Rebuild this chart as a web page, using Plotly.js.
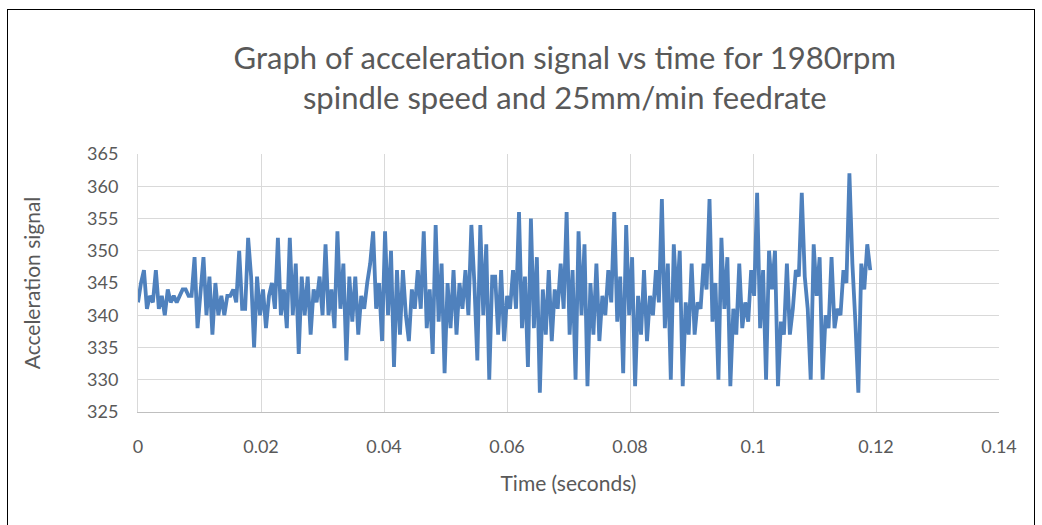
<!DOCTYPE html>
<html>
<head>
<meta charset="utf-8">
<script src="https://cdn.plot.ly/plotly-3.0.1.min.js"></script>
<style>
  html, body { margin: 0; padding: 0; background: #ffffff; }
  #wrap { position: relative; width: 1042px; height: 525px; overflow: hidden; }
  #chart { width: 1042px; height: 525px; }
  #frame { position: absolute; left: 7px; top: 9px; width: 1028px; height: 540px;
           border: 1.5px solid #000; pointer-events: none; box-sizing: border-box; }
</style>
</head>
<body>
<div id="wrap">
  <div id="chart"></div>
  <div id="frame"></div>
</div>
<script>
// Sampling interval of the acceleration signal (seconds)
const sampleInterval = 0.000484;

// Acceleration signal values, in time order
const signalPart1 = [342,345,347,341,343,342,347,341,343,340,344,342,343,342,343,344,344,343,343,349,
                     338,343,349,340,346,337,345,340,343,340,343,343,344,342,350,341,341,352,346,335];
const signalPart2 = [346,340,344,338,343,345,341,352,340,344,338,352,340,348,334,346,340,346,337,344,
                     342,346,340,351,340,344,338,353,341,348,333,346,339,346,337,343,341,345,348];
const signalPart3 = [353,341,345,336,353,340,350,332,347,337,347,340,336,344,341,347,341,353,338,344,
                     334,354,339,348,331,345,338,347,337,345,341,347,340,354,345,333,354,340,351,330,346];
const signalPart4 = [346,337,347,336,343,341,347,341,356,338,346,332,355,338,349,328,344,337,347,336,
                     344,341,348,341,356,337,347,330,353,340,351,329,345,337,348,336,343,340,347,342,356];
const signalPart5 = [339,346,331,354,340,349,329,343,337,347,336,343,340,347,342,358,338,348,330,351,
                     342,350,329,342,337,348,337,342,341,348,344,358,339,345,330,352,341,349,329,341];
const signalPart6 = [337,348,338,342,339,347,343,359,338,347,330,350,344,350,329,339,337,348,337,341,
                     347,346,359,346,341,330,351,343,349,330,340,338,349,338,341,340,347,345,362,348,
                     339,328,348,344,351,347];

const signal = [].concat(signalPart1, signalPart2, signalPart3, signalPart4, signalPart5, signalPart6);
const time = signal.map((v, i) => i * sampleInterval);

const xTicks = [0, 0.02, 0.04, 0.06, 0.08, 0.1, 0.12, 0.14];
const xTickLabels = ["0", "0.02", "0.04", "0.06", "0.08", "0.1", "0.12", "0.14"];
const yTicks = [325, 330, 335, 340, 345, 350, 355, 360, 365];

const chartTitle = "Graph of acceleration signal vs time for 1980rpm<br>spindle speed and 25mm/min feedrate";
const xTitle = "Time (seconds)";
const yTitle = "Acceleration signal";

const font = "Lato, 'Open Sans', sans-serif";
const textGrey = "#595959";

const trace = {
  x: time,
  y: signal,
  type: "scatter",
  mode: "lines",
  line: { color: "#4F81BD", width: 3.8, shape: "linear" },
  hoverinfo: "x+y"
};

const layout = {
  width: 1042,
  height: 525,
  paper_bgcolor: "#ffffff",
  plot_bgcolor: "#ffffff",
  margin: { l: 138, r: 43, t: 154, b: 113, pad: 0 },
  showlegend: false,
  font: { family: font, color: textGrey },
  title: {
    text: chartTitle,
    font: { family: font, size: 31, color: textGrey },
    x: 0.542, xanchor: "center",
    y: 0.869, yanchor: "middle"
  },
  xaxis: {
    range: [0, 0.14],
    tickvals: xTicks,
    ticktext: xTickLabels,
    showgrid: true,
    gridcolor: "#d9d9d9",
    gridwidth: 1,
    zeroline: false,
    showline: true,
    linecolor: "#bfbfbf",
    linewidth: 1,
    ticks: "",
    ticklabelstandoff: 18,
    tickfont: { family: font, size: 18, color: textGrey },
    title: { text: xTitle, font: { family: font, size: 21, color: textGrey }, standoff: 20 }
  },
  yaxis: {
    range: [325, 365],
    tickvals: yTicks,
    showgrid: true,
    gridcolor: "#d9d9d9",
    gridwidth: 1,
    zeroline: false,
    showline: true,
    linecolor: "#d9d9d9",
    ticks: "",
    ticklabelstandoff: 15,
    tickfont: { family: font, size: 18, color: textGrey },
    title: { text: yTitle, font: { family: font, size: 21, color: textGrey }, standoff: 40 }
  }
};

Plotly.newPlot("chart", [trace], layout, { displayModeBar: false, staticPlot: true });
</script>
</body>
</html>
